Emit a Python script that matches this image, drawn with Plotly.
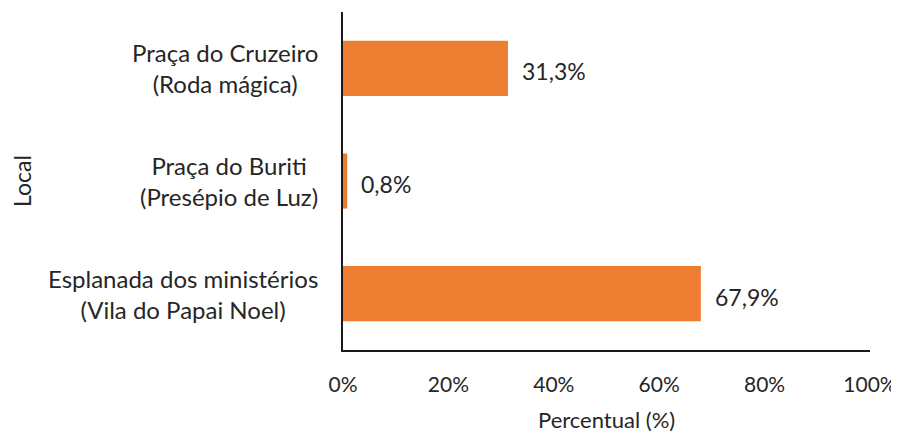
import plotly.graph_objects as go

categories = ["Esplanada dos ministérios<br>(Vila do Papai Noel)",
              "Praça do Buriti<br>(Presépio de Luz)",
              "Praça do Cruzeiro<br>(Roda mágica)"]
values = [67.9, 0.8, 31.3]
tick_vals = [0, 20, 40, 60, 80, 100]
tick_text = ["0%", "20%", "40%", "60%", "80%", "100%"]

FONT = "Lato"
TXT = "#262626"

fig = go.Figure(go.Bar(
    y=categories, x=values, orientation="h",
    marker=dict(color="#ED7D31", line=dict(width=0)),
    width=0.49,
))

annotations = []
for c, v in zip(categories, values):
    annotations.append(dict(x=v, y=c, xref="x", yref="y", text=f"{v:.1f}%".replace(".", ","),
                            showarrow=False, xanchor="left", xshift=12, yshift=-3,
                            font=dict(family=FONT, size=23, color=TXT)))
    annotations.append(dict(x=0, y=c, xref="x", yref="y", text=c, align="center",
                            showarrow=False, xanchor="right", xshift=-23, yshift=0,
                            font=dict(family=FONT, size=24, color=TXT)))

annotations.append(dict(x=0.5, y=0, xref="paper", yref="paper", text="Percentual (%)",
                        showarrow=False, xanchor="center", yanchor="middle", yshift=-69,
                        font=dict(family=FONT, size=22, color=TXT)))
annotations.append(dict(x=0, y=0.5, xref="paper", yref="paper", text="Local", textangle=-90,
                        showarrow=False, xanchor="center", yanchor="middle", xshift=-321, yshift=0,
                        font=dict(family=FONT, size=23, color=TXT)))

fig.update_layout(
    width=891, height=426,
    margin=dict(l=335, r=29, t=4, b=84),
    paper_bgcolor="white", plot_bgcolor="white",
    showlegend=False,
    separators=",.",
    font=dict(family=FONT, size=23, color=TXT),
    annotations=annotations,
)
fig.update_xaxes(range=[0, 100], tickvals=tick_vals, ticktext=tick_text,
                 showgrid=False, zeroline=False, showline=True, linecolor="#1a1a1a",
                 linewidth=1.5, ticks="", ticklabelstandoff=15, ticklabeloverflow="allow",
                 tickfont=dict(family=FONT, size=21, color=TXT), automargin=False)
fig.update_yaxes(range=[-0.5, 2.5], showticklabels=False, showgrid=False, zeroline=False,
                 showline=True, linecolor="#1a1a1a", linewidth=1.5, ticks="", automargin=False)

fig.write_html("out.html")
